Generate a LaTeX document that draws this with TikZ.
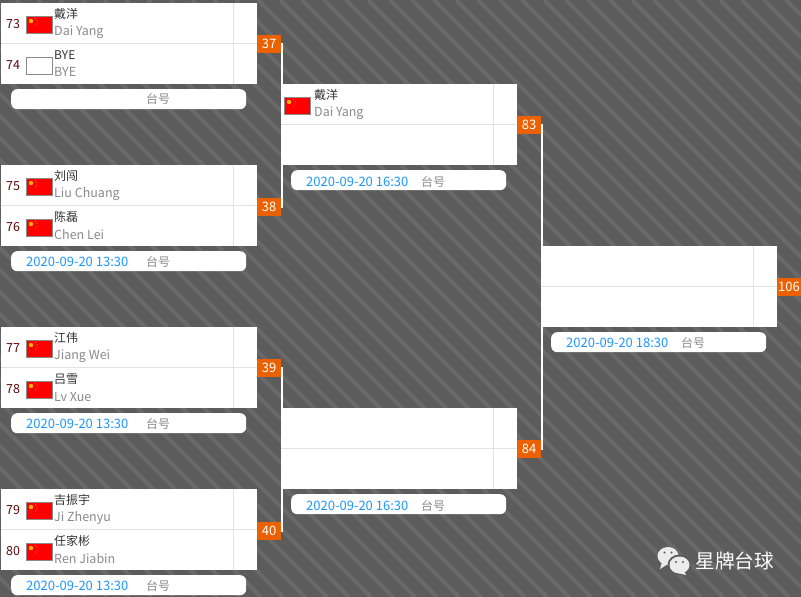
\documentclass[tikz,border=0pt]{standalone}
\usepackage{xcolor}
\usepackage{fontspec}
\setmainfont{Noto Sans CJK SC}
\definecolor{DrawBack}{HTML}{5C5C5C}
\definecolor{DrawStripe}{HTML}{696969}
\definecolor{DrawLine}{HTML}{E2E2E2}
\definecolor{DrawOrange}{HTML}{EB6100}
\definecolor{DrawBlue}{HTML}{1E96FF}
\definecolor{DrawGray}{HTML}{8A8A8A}
\definecolor{DrawSeed}{HTML}{5C0A0A}
\definecolor{DrawText}{HTML}{333333}
\definecolor{DrawFlag}{HTML}{FF0000}
\definecolor{DrawStar}{HTML}{FFB400}
\tikzset{
  matchbox/.style={draw=none,fill=white,inner sep=0pt,minimum height=81pt,anchor=north west},
  smallbox/.style={matchbox,minimum width=256pt},
  widebox/.style={matchbox,minimum width=236pt},
  badge/.style={fill=DrawOrange,text=white,inner sep=0pt,minimum width=24pt,minimum height=18pt,font=\fontsize{13}{13}\selectfont},
  pill/.style={fill=white,rounded corners=6pt,inner sep=0pt,minimum height=20pt,anchor=north west},
  seed/.style={text=DrawSeed,inner sep=0pt,font=\fontsize{12.5}{13}\selectfont},
  cname/.style={text=DrawText,anchor=west,inner sep=0pt,font=\fontsize{12}{12}\selectfont},
  ename/.style={text=DrawGray,anchor=west,inner sep=0pt,font=\fontsize{12.5}{13}\selectfont},
  datetext/.style={text=DrawBlue,anchor=west,inner sep=0pt,font=\fontsize{13}{13}\selectfont},
  tabletext/.style={text=DrawGray,anchor=west,inner sep=0pt,font=\fontsize{12}{12}\selectfont},
  link/.style={white,line width=2pt},
  flagbox/.style={draw=DrawGray,line width=1pt,fill=DrawFlag,inner sep=0pt,minimum width=26pt,minimum height=17pt,anchor=north west},
  blankflag/.style={flagbox,fill=white},
}
\newcommand{\stars}[2]{%
\fill[DrawStar] (#1+5,#2+5) circle (2.2);
\fill[DrawStar] (#1+9.5,#2+2.5) circle (.5);
\fill[DrawStar] (#1+11,#2+4.5) circle (.5);
\fill[DrawStar] (#1+11,#2+7) circle (.5);
\fill[DrawStar] (#1+9.5,#2+9) circle (.5);
}
\begin{document}
\begin{tikzpicture}[x=1pt,y=-1pt]
\useasboundingbox (0,0) rectangle (801,597);
\fill[DrawBack] (0,0) rectangle (801,597);
% stripes
\begin{scope}
\clip (0,0) rectangle (801,597);
\foreach \sx in {-600,-578,...,800}
  \draw[DrawStripe,line width=4pt] (\sx,0) -- (\sx+597,597);
\end{scope}
% links
\node[badge] (m37) at (269,44) {37};
\node[badge] (m38) at (269,207) {38};
\node[badge] (m39) at (269,368) {39};
\node[badge] (m40) at (269,530.5) {40};
\node[badge] (m83) at (529,125) {83};
\node[badge] (m84) at (529,449) {84};
\node[badge] (m106) at (789,287) {106};
\draw[link] (m37.east) -- ++(1,0) |- (m38.east);
\draw[link] (m39.east) -- ++(1,0) |- (m40.east);
\draw[link] (m83.east) -- ++(1,0) |- (m84.east);
% first round
\node[smallbox] (b37) at (1,3) {};
\node[smallbox] (b38) at (1,165) {};
\node[smallbox] (b39) at (1,327) {};
\node[smallbox] (b40) at (1,489) {};
\node[widebox] (b83) at (281,84) {};
\node[widebox] (b84) at (281,408) {};
\node[widebox] (b106) at (541,246) {};
\foreach \bx in {b37,b38,b39,b40,b83,b84,b106} {
  \draw[DrawLine] ([yshift=.8pt]\bx.west) -- ([yshift=.8pt]\bx.east);
  \draw[DrawLine] ([xshift=-24.4pt]\bx.north east) -- ([xshift=-24.4pt]\bx.south east);
}
% match 37
\node[seed] (s73) at (13,24) {73};
\node[flagbox] (f73) at (26,16) {};
\stars{26}{16}
\node[cname] (c73) at (54,14) {戴洋};
\node[ename] (e73) at (54,32) {Dai Yang};
\node[seed] (s74) at (13,65) {74};
\node[blankflag] (f74) at (26,57) {};
\node[cname] (c74) at (54,55) {BYE};
\node[ename] (e74) at (54,72) {BYE};
\node[pill,minimum width=235pt] (p37) at (11,89) {};
\node[tabletext] (t37) at (146,99) {台号};
% match 38
\node[seed] (s75) at (13,186) {75};
\node[flagbox] (f75) at (26,178) {};
\stars{26}{178}
\node[cname] (c75) at (54,176) {刘闯};
\node[ename] (e75) at (54,194) {Liu Chuang};
\node[seed] (s76) at (13,227) {76};
\node[flagbox] (f76) at (26,219) {};
\stars{26}{219}
\node[cname] (c76) at (54,217) {陈磊};
\node[ename] (e76) at (54,235) {Chen Lei};
\node[pill,minimum width=235pt] (p38) at (11,251) {};
\node[datetext] (d38) at (26,262) {2020-09-20 13:30};
\node[tabletext] (t38) at (146,262) {台号};
% match 39
\node[seed] (s77) at (13,348) {77};
\node[flagbox] (f77) at (26,340) {};
\stars{26}{340}
\node[cname] (c77) at (54,338) {江伟};
\node[ename] (e77) at (54,356) {Jiang Wei};
\node[seed] (s78) at (13,389) {78};
\node[flagbox] (f78) at (26,381) {};
\stars{26}{381}
\node[cname] (c78) at (54,379) {吕雪};
\node[ename] (e78) at (54,397) {Lv Xue};
\node[pill,minimum width=235pt] (p39) at (11,413) {};
\node[datetext] (d39) at (26,424) {2020-09-20 13:30};
\node[tabletext] (t39) at (146,424) {台号};
% match 40
\node[seed] (s79) at (13,510) {79};
\node[flagbox] (f79) at (26,502) {};
\stars{26}{502}
\node[cname] (c79) at (54,500) {吉振宇};
\node[ename] (e79) at (54,518) {Ji Zhenyu};
\node[seed] (s80) at (13,551) {80};
\node[flagbox] (f80) at (26,543) {};
\stars{26}{543}
\node[cname] (c80) at (54,541) {任家彬};
\node[ename] (e80) at (54,558.5) {Ren Jiabin};
\node[pill,minimum width=235pt] (p40) at (11,575) {};
\node[datetext] (d40) at (26,586) {2020-09-20 13:30};
\node[tabletext] (t40) at (146,586) {台号};
% second round
\node[flagbox] (f83) at (284,97) {};
\stars{284}{97}
\node[cname] (c83) at (314,95) {戴洋};
\node[ename] (e83) at (314,113) {Dai Yang};
\node[pill,minimum width=215pt] (p83) at (291,170) {};
\node[datetext] (d83) at (306,181.5) {2020-09-20 16:30};
\node[tabletext] (t83) at (421,181.5) {台号};
\node[pill,minimum width=215pt] (p84) at (291,494) {};
\node[datetext] (d84) at (306,505.5) {2020-09-20 16:30};
\node[tabletext] (t84) at (421,505.5) {台号};
% final
\node[pill,minimum width=215pt] (p106) at (551,332) {};
\node[datetext] (d106) at (566,343) {2020-09-20 18:30};
\node[tabletext] (t106) at (681,343) {台号};
% logo
\fill[white!92!black] (668,556) ellipse (10.5 and 9);
\fill[white!92!black] (662,562) -- (660,569) -- (668,564) -- cycle;
\fill[DrawBack] (679.5,565) ellipse (12 and 10.5);
\fill[white!92!black] (679.5,565) ellipse (10 and 8.5);
\fill[white!92!black] (684,571) -- (686,575) -- (678,573) -- cycle;
\fill[DrawBack] (664.5,552.5) circle (1.2);
\fill[DrawBack] (671.5,552.5) circle (1.2);
\fill[DrawBack] (676,562) circle (1.1);
\fill[DrawBack] (683,562) circle (1.1);
\node[text=white,anchor=west,inner sep=0pt,font=\fontsize{19.6}{20}\selectfont] (logo) at (695.5,561) {星牌台球};
\end{tikzpicture}
\end{document}
